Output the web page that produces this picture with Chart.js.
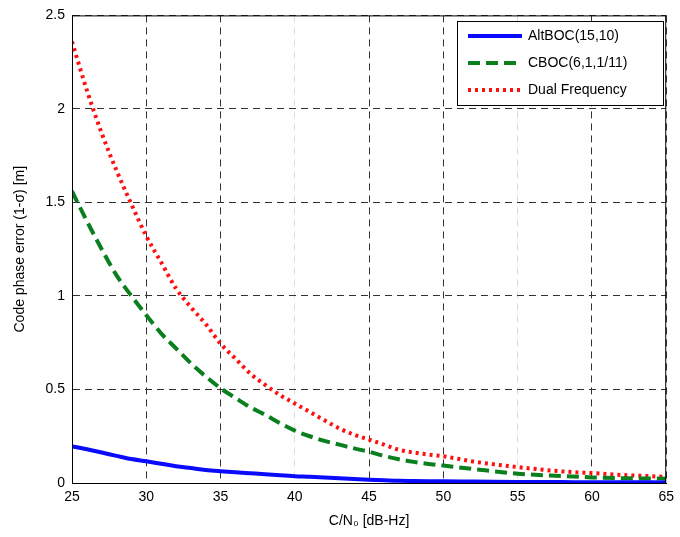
<!DOCTYPE html>
<html>

<head>
    <title>Code phase error</title>
    <script src="https://cdn.jsdelivr.net/npm/chart.js"></script>
    <style>
        body { margin: 0; background: #fff; }
        #wrap { width: 680px; height: 537px; }
    </style>
</head>

<body>
    <div id="wrap"><canvas id="chart"></canvas></div>
    <script>
        // C/N0 in dB-Hz
        var cn0 = [25, 26, 27, 28, 29, 30, 31, 32, 33, 34, 35, 36, 37, 38, 39, 40, 41, 42, 43, 44, 45,
            46, 47, 48, 49, 50, 52, 55, 58, 60, 62, 65];
        var altboc = [0.196, 0.18, 0.163, 0.145, 0.128, 0.116, 0.103, 0.09, 0.08, 0.07, 0.063, 0.057, 0.052,
            0.047, 0.041, 0.036, 0.033, 0.029, 0.025, 0.021, 0.018, 0.015, 0.012, 0.011, 0.01, 0.009,
            0.008, 0.006, 0.005, 0.004, 0.004, 0.003];
        var cboc = [1.56, 1.40, 1.25, 1.11, 1.00, 0.897, 0.80, 0.72, 0.64, 0.57, 0.507, 0.455, 0.405, 0.365,
            0.32, 0.28, 0.25, 0.225, 0.205, 0.185, 0.167, 0.145, 0.127, 0.113, 0.102, 0.093, 0.075,
            0.05, 0.037, 0.03, 0.026, 0.023];
        var dualFreq = [2.36, 2.10, 1.87, 1.67, 1.49, 1.32, 1.18, 1.04, 0.94, 0.85, 0.745, 0.665, 0.585,
            0.525, 0.47, 0.425, 0.38, 0.335, 0.292, 0.258, 0.232, 0.205, 0.178, 0.163, 0.152, 0.143,
            0.115, 0.085, 0.062, 0.053, 0.043, 0.033];
        var xTicks = [25, 30, 35, 40, 45, 50, 55, 60, 65];
        var yTickLabels = ['0', '0.5', '1', '1.5', '2', '2.5'];
        var fadedX = [40, 55]; // these grid lines are pale in the figure

        function pts(ys) {
            return cn0.map(function (x, i) { return { x: x, y: ys[i] }; });
        }

        Chart.defaults.font.family = "'Liberation Sans', Arial, sans-serif";
        Chart.defaults.font.size = 13;
        Chart.defaults.color = '#000';

        // box around the plot + legend drawn inside the axes, matlab style
        var frameLegend = {
            id: 'frameLegend',
            afterDraw: function (chart) {
                var c = chart.ctx, a = chart.chartArea;
                c.save();
                c.strokeStyle = '#000';
                c.lineWidth = 1;
                c.strokeRect(a.left + 0.5, a.top + 0.5, a.right - a.left - 1, a.bottom - a.top);

                var bx = 457, by = 21, bw = 206, bh = 84;
                c.fillStyle = '#fff';
                c.fillRect(bx, by, bw, bh);
                c.strokeRect(bx + 0.5, by + 0.5, bw, bh);
                c.font = "14px 'Liberation Sans', Arial, sans-serif";
                c.textBaseline = 'middle';
                chart.data.datasets.forEach(function (ds, i) {
                    var yy = by + 15 + i * 27;
                    c.beginPath();
                    c.strokeStyle = ds.borderColor;
                    c.lineWidth = ds.borderWidth;
                    c.lineCap = 'butt';
                    c.setLineDash(ds.borderDash || []);
                    c.moveTo(bx + 11, yy);
                    c.lineTo(bx + 65, yy);
                    c.stroke();
                    c.setLineDash([]);
                    c.fillStyle = '#000';
                    c.fillText(ds.label, bx + 71, yy);
                });
                c.restore();
            }
        };

        new Chart(document.getElementById('chart').getContext('2d'), {
            type: 'line',
            data: {
                datasets: [{
                    label: 'AltBOC(15,10)',
                    data: pts(altboc),
                    borderColor: '#0a0aff',
                    borderWidth: 4,
                    pointRadius: 0,
                    cubicInterpolationMode: 'monotone'
                }, {
                    label: 'CBOC(6,1,1/11)',
                    data: pts(cboc),
                    borderColor: '#0a7f1e',
                    borderWidth: 4,
                    borderDash: [12, 6],
                    pointRadius: 0,
                    cubicInterpolationMode: 'monotone'
                }, {
                    label: 'Dual Frequency',
                    data: pts(dualFreq),
                    borderColor: '#ff1010',
                    borderWidth: 4,
                    borderDash: [3, 4],
                    pointRadius: 0,
                    cubicInterpolationMode: 'monotone'
                }]
            },
            options: {
                responsive: true,
                maintainAspectRatio: false,
                animation: false,
                layout: { padding: { top: 10, right: 11, left: 0, bottom: 0 } },
                plugins: {
                    legend: { display: false },
                    tooltip: { enabled: false }
                },
                scales: {
                    x: {
                        type: 'linear',
                        min: 25,
                        max: 65,
                        afterBuildTicks: function (s) {
                            s.ticks = xTicks.map(function (v) { return { value: v }; });
                        },
                        afterFit: function (s) { s.height = 54; },
                        grid: {
                            drawTicks: false,
                            color: function (ctx) {
                                return fadedX.indexOf(ctx.tick.value) >= 0 ? '#dcdcdc' : '#333';
                            },
                            lineWidth: 1
                        },
                        border: { display: true, color: '#000', width: 1, dash: [7, 5] },
                        ticks: { padding: 6, maxRotation: 0, font: { size: 14 } },
                        title: {
                            display: true,
                            text: 'C/N\u2080 [dB-Hz]',
                            font: { size: 14 },
                            padding: { top: 0, bottom: 7 }
                        }
                    },
                    y: {
                        min: 0,
                        max: 2.5,
                        ticks: {
                            stepSize: 0.5,
                            padding: 7,
                            font: { size: 14 },
                            callback: function (v, i) { return yTickLabels[i]; }
                        },
                        afterFit: function (s) { s.width = 72; },
                        grid: { drawTicks: false, color: '#333', lineWidth: 1 },
                        border: { display: true, color: '#000', width: 1, dash: [7, 5] },
                        title: {
                            display: true,
                            text: 'Code phase error (1-\u03c3) [m]',
                            font: { size: 14 },
                            padding: { top: 12, bottom: 0 }
                        }
                    }
                }
            },
            plugins: [frameLegend]
        });
    </script>
</body>

</html>
